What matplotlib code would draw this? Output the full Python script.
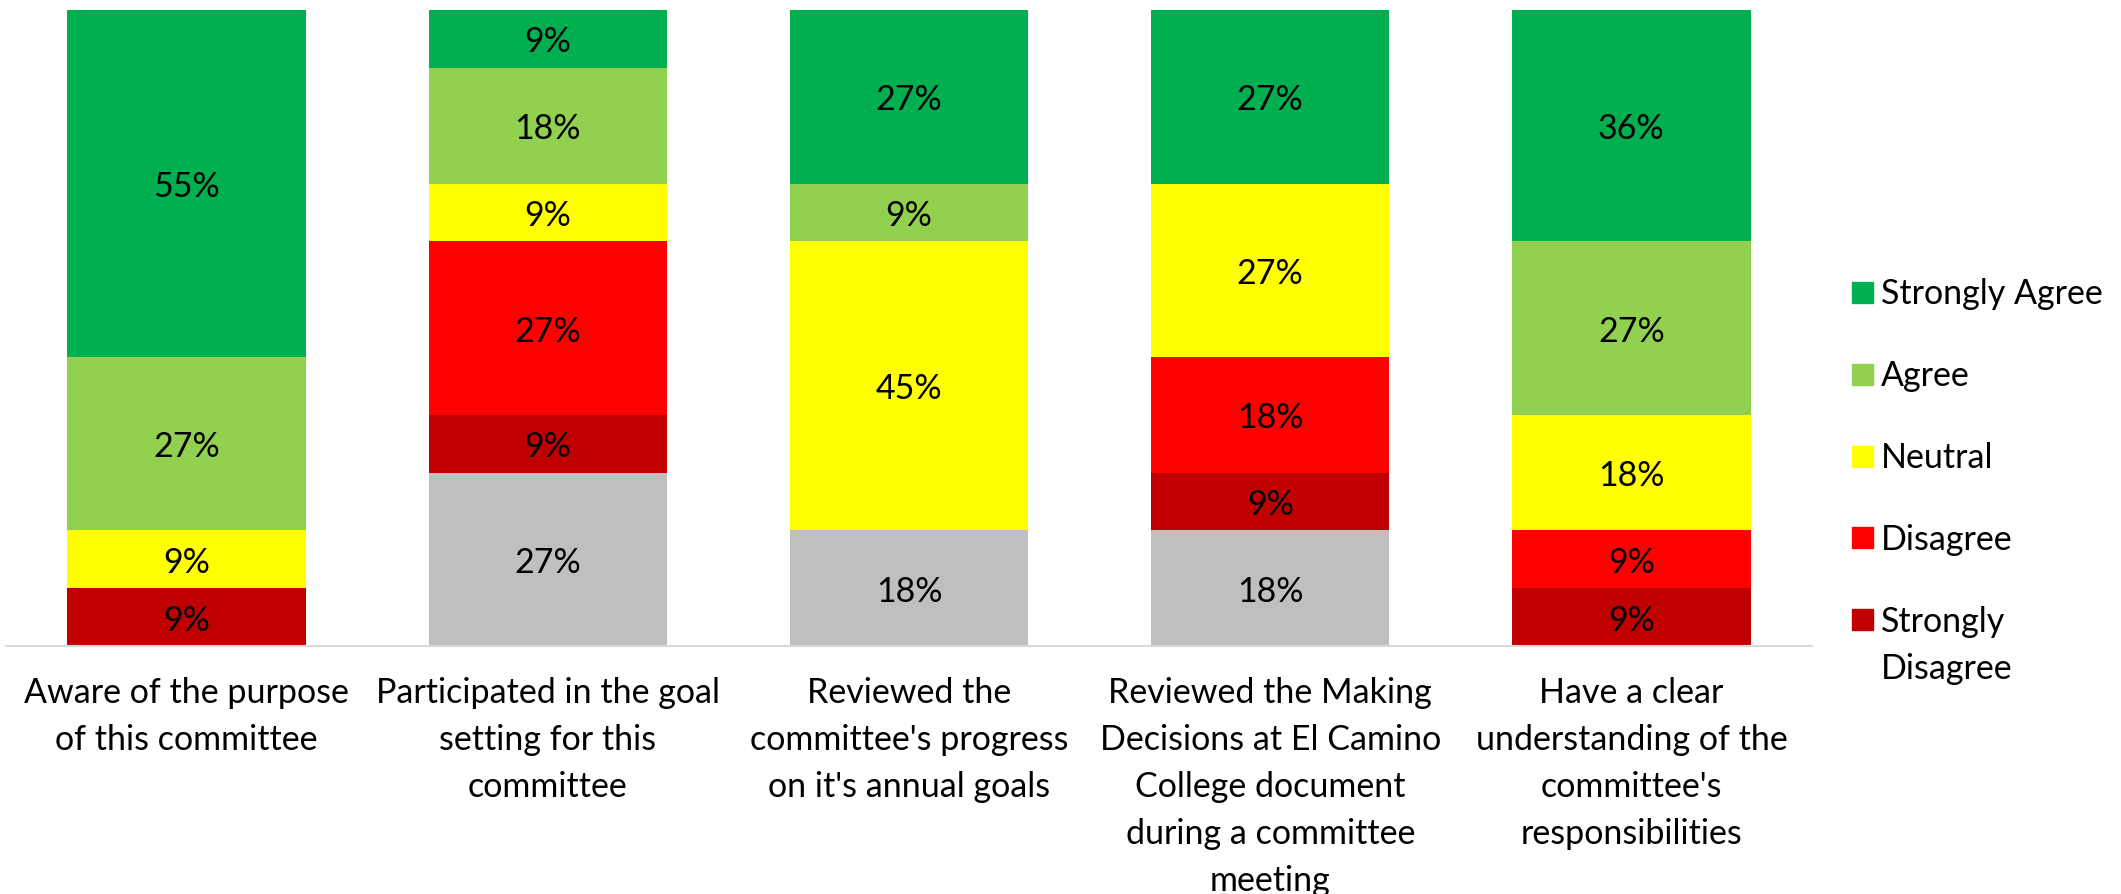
import matplotlib
matplotlib.use("Agg")
import matplotlib.pyplot as plt
from matplotlib.patches import Rectangle
import numpy as np

plt.rcParams['font.family'] = ['Lato', 'DejaVu Sans']

categories = [
    "Aware of the purpose\nof this committee",
    "Participated in the goal\nsetting for this\ncommittee",
    "Reviewed the\ncommittee's progress\non it's annual goals",
    "Reviewed the Making\nDecisions at El Camino\nCollege document\nduring a committee\nmeeting",
    "Have a clear\nunderstanding of the\ncommittee's\nresponsibilities",
]

# stacked bottom -> top
no_response       = [0.00, 27.27, 18.18, 18.18, 0.00]
strongly_disagree = [9.09, 9.09, 0.00, 9.09, 9.09]
disagree          = [0.00, 27.27, 0.00, 18.18, 9.09]
neutral           = [9.09, 9.09, 45.45, 27.27, 18.18]
agree             = [27.27, 18.18, 9.09, 0.00, 27.27]
strongly_agree    = [54.55, 9.09, 27.27, 27.27, 36.36]

series = [
    ("No Response", no_response, "#BFBFBF", False),
    ("Strongly\nDisagree", strongly_disagree, "#C00000", True),
    ("Disagree", disagree, "#FF0000", True),
    ("Neutral", neutral, "#FFFF00", True),
    ("Agree", agree, "#92D050", True),
    ("Strongly Agree", strongly_agree, "#00B050", True),
]

W, H = 2121, 894
fig = plt.figure(figsize=(W / 100, H / 100), dpi=100)
ax = fig.add_axes([6 / W, 1 - 646 / H, (1812 - 6) / W, (646 - 10) / H])

x = np.arange(len(categories))
bottom = np.zeros(len(categories))
FS = 24.5
for name, vals, col, in_leg in series:
    vals = np.array(vals)
    ax.bar(x, vals, bottom=bottom, width=0.66, color=col, edgecolor='none')
    for xi, v, b in zip(x, vals, bottom):
        if v > 0:
            ax.annotate(f"{v:.0f}%", (xi, b + v / 2), xytext=(0, -2.5),
                        textcoords='offset points', ha='center', va='center',
                        fontsize=FS, color='black')
    bottom += vals

ax.set_xlim(-0.5, len(categories) - 0.5)
ax.set_ylim(0, bottom.max())
for s in ['top', 'right', 'left']:
    ax.spines[s].set_visible(False)
ax.spines['bottom'].set_color('#D9D9D9')
ax.spines['bottom'].set_linewidth(1.5)
ax.set_yticks([])
ax.set_xticks(x)
ax.set_xticklabels(categories, fontsize=FS, linespacing=1.58)
ax.tick_params(axis='x', length=0, pad=22)

# manual legend (top to bottom)
leg_y = [292.5, 374.3, 456, 537.8, 619.5]
leg_items = [s for s in series if s[3]][::-1]
sq = 21
for (name, vals, col, _), yy in zip(leg_items, leg_y):
    fig.patches.append(Rectangle(((1862.5 - sq / 2) / W, 1 - (yy + sq / 2) / H),
                                 sq / W, sq / H, transform=fig.transFigure,
                                 color=col, figure=fig))
    fig.text(1881 / W, 1 - (yy - 14) / H, name, ha='left', va='top',
             fontsize=FS, linespacing=1.58)

fig.savefig("out.png", dpi=100)
